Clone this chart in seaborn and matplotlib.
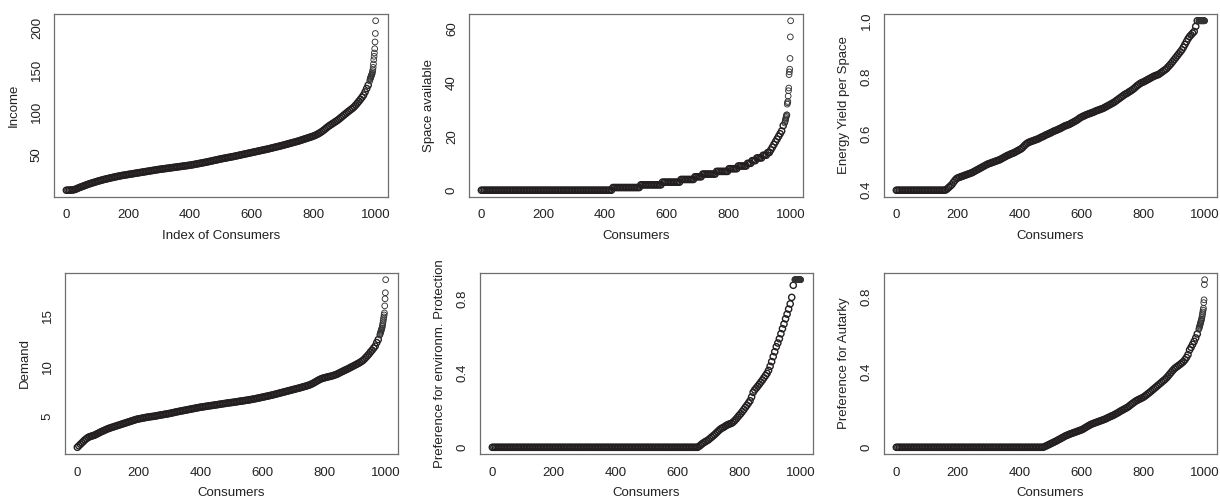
import numpy as np
import matplotlib
matplotlib.use("Agg")
import matplotlib.pyplot as plt
import seaborn as sns

# ---------------- data (sorted consumer attributes) ----------------
bulk_index = np.arange(1, 977, 5)      # consumer ranks 1, 6, 11, ..., 976
tail_index = np.arange(981, 1001)      # consumer ranks 981 ... 1000

income_bulk = [
    8.0, 8.0, 8.1, 8.2, 8.3, 8.6, 9.2, 10.0, 10.8, 11.6,
    12.2, 12.9, 13.6, 14.3, 15.0, 15.6, 16.2, 16.8, 17.3, 17.9,
    18.5, 19.0, 19.5, 20.0, 20.5, 21.0, 21.4, 21.8, 22.3, 22.7,
    23.1, 23.5, 23.9, 24.3, 24.7, 25.0, 25.4, 25.7, 26.0, 26.3,
    26.6, 26.9, 27.2, 27.5, 27.8, 28.1, 28.4, 28.7, 29.0, 29.3,
    29.6, 29.9, 30.2, 30.5, 30.8, 31.1, 31.4, 31.7, 32.0, 32.3,
    32.6, 32.8, 33.1, 33.3, 33.6, 33.8, 34.1, 34.3, 34.6, 34.8,
    35.1, 35.3, 35.6, 35.8, 36.1, 36.3, 36.6, 36.8, 37.1, 37.3,
    37.6, 37.9, 38.2, 38.6, 38.9, 39.3, 39.6, 40.0, 40.3, 40.7,
    41.0, 41.4, 41.8, 42.2, 42.6, 43.0, 43.4, 43.8, 44.2, 44.6,
    45.0, 45.4, 45.7, 46.1, 46.4, 46.8, 47.1, 47.5, 47.8, 48.2,
    48.6, 49.0, 49.4, 49.8, 50.2, 50.6, 51.0, 51.4, 51.8, 52.2,
    52.6, 53.0, 53.4, 53.8, 54.2, 54.6, 55.0, 55.4, 55.8, 56.2,
    56.6, 57.0, 57.5, 57.9, 58.4, 58.8, 59.3, 59.7, 60.2, 60.6,
    61.1, 61.6, 62.1, 62.6, 63.1, 63.6, 64.1, 64.6, 65.1, 65.6,
    66.1, 66.7, 67.3, 67.9, 68.5, 69.1, 69.7, 70.3, 70.9, 71.5,
    72.2, 73.0, 73.9, 74.9, 76.0, 77.2, 78.5, 80.0, 81.5, 83.0,
    84.3, 85.5, 86.7, 87.9, 89.1, 90.3, 91.7, 93.2, 94.7, 96.2,
    97.7, 99.2, 100.7, 102.1, 103.5, 104.9, 106.6, 108.6, 110.8, 113.0,
    115.3, 117.7, 120.3, 124.0, 128.0, 132.0,
]
income_tail = [137, 139, 140, 141, 142, 143, 144, 145, 146, 148,
               150, 153, 157, 162, 166, 170, 175, 183, 193, 208]

space_bulk = [
    0, 0, 0, 0, 0, 0, 0, 0, 0, 0,
    0, 0, 0, 0, 0, 0, 0, 0, 0, 0,
    0, 0, 0, 0, 0, 0, 0, 0, 0, 0,
    0, 0, 0, 0, 0, 0, 0, 0, 0, 0,
    0, 0, 0, 0, 0, 0, 0, 0, 0, 0,
    0, 0, 0, 0, 0, 0, 0, 0, 0, 0,
    0, 0, 0, 0, 0, 0, 0, 0, 0, 0,
    0, 0, 0, 0, 0, 0, 0, 0, 0, 0,
    0, 0, 0, 0, 0, 1, 1, 1, 1, 1,
    1, 1, 1, 1, 1, 1, 1, 1, 1, 1,
    1, 1, 1, 2, 2, 2, 2, 2, 2, 2,
    2, 2, 2, 2, 2, 2, 2, 3, 3, 3,
    3, 3, 3, 3, 3, 3, 3, 3, 3, 4,
    4, 4, 4, 4, 4, 4, 4, 4, 5, 5,
    5, 5, 5, 6, 6, 6, 6, 6, 6, 6,
    6, 6, 7, 7, 7, 7, 7, 7, 7, 7,
    8, 8, 8, 8, 8, 8, 9, 9, 9, 9,
    9, 9, 10, 10, 10, 11, 11, 11, 12, 12,
    12, 12, 13, 13, 13, 14, 14, 15, 16, 17,
    18, 19, 20, 21, 22, 24,
]
space_tail = [25, 25.5, 26, 26.5, 27, 27.5, 28, 28, 32, 32.5,
              33, 35, 37, 38, 43, 44, 45, 49, 57, 63]

energy_bulk = [
    0.40, 0.40, 0.40, 0.40, 0.40, 0.40, 0.40, 0.40, 0.40, 0.40,
    0.40, 0.40, 0.40, 0.40, 0.40, 0.40, 0.40, 0.40, 0.40, 0.40,
    0.40, 0.40, 0.40, 0.40, 0.40, 0.40, 0.40, 0.40, 0.40, 0.40,
    0.40, 0.40, 0.401, 0.405, 0.41, 0.415, 0.42, 0.428, 0.435, 0.441,
    0.444, 0.446, 0.448, 0.450, 0.452, 0.454, 0.456, 0.458, 0.460, 0.462,
    0.465, 0.468, 0.471, 0.474, 0.477, 0.480, 0.483, 0.486, 0.489, 0.492,
    0.494, 0.496, 0.498, 0.500, 0.502, 0.504, 0.506, 0.508, 0.511, 0.514,
    0.517, 0.520, 0.523, 0.525, 0.528, 0.530, 0.532, 0.535, 0.538, 0.541,
    0.544, 0.547, 0.552, 0.558, 0.563, 0.567, 0.570, 0.572, 0.574, 0.576,
    0.578, 0.580, 0.582, 0.585, 0.588, 0.590, 0.593, 0.596, 0.598, 0.601,
    0.603, 0.606, 0.609, 0.611, 0.613, 0.616, 0.618, 0.621, 0.624, 0.627,
    0.629, 0.631, 0.633, 0.636, 0.639, 0.642, 0.645, 0.648, 0.652, 0.656,
    0.659, 0.662, 0.664, 0.667, 0.669, 0.671, 0.673, 0.675, 0.677, 0.680,
    0.682, 0.684, 0.686, 0.688, 0.690, 0.693, 0.696, 0.699, 0.702, 0.705,
    0.708, 0.711, 0.715, 0.719, 0.723, 0.727, 0.731, 0.735, 0.739, 0.742,
    0.745, 0.749, 0.752, 0.756, 0.760, 0.765, 0.770, 0.774, 0.778, 0.781,
    0.783, 0.786, 0.789, 0.792, 0.795, 0.798, 0.801, 0.804, 0.806, 0.808,
    0.810, 0.814, 0.818, 0.822, 0.826, 0.830, 0.836, 0.842, 0.848, 0.855,
    0.862, 0.869, 0.876, 0.883, 0.890, 0.897, 0.906, 0.916, 0.926, 0.936,
    0.944, 0.950, 0.956, 0.962, 0.980, 1.000,
]
energy_tail = [1.0, 1.0, 1.0, 1.0, 1.0, 1.0, 1.0, 1.0, 1.0, 1.0,
               1.0, 1.0, 1.0, 1.0, 1.0, 1.0, 1.0, 1.0, 1.0, 1.0]

demand_bulk = [
    1.95, 2.1, 2.25, 2.4, 2.55, 2.7, 2.82, 2.93, 3.0, 3.05,
    3.1, 3.15, 3.22, 3.3, 3.38, 3.46, 3.53, 3.6, 3.67, 3.74,
    3.8, 3.86, 3.91, 3.96, 4.01, 4.06, 4.11, 4.16, 4.21, 4.26,
    4.31, 4.36, 4.41, 4.46, 4.51, 4.56, 4.61, 4.66, 4.71, 4.75,
    4.78, 4.81, 4.84, 4.87, 4.9, 4.93, 4.96, 4.98, 5.0, 5.02,
    5.04, 5.07, 5.1, 5.13, 5.16, 5.18, 5.21, 5.24, 5.26, 5.29,
    5.32, 5.35, 5.39, 5.42, 5.46, 5.49, 5.52, 5.55, 5.58, 5.61,
    5.64, 5.67, 5.7, 5.73, 5.76, 5.79, 5.82, 5.85, 5.88, 5.91,
    5.94, 5.96, 5.98, 6.01, 6.03, 6.06, 6.08, 6.1, 6.12, 6.15,
    6.17, 6.19, 6.22, 6.24, 6.27, 6.29, 6.31, 6.34, 6.36, 6.38,
    6.4, 6.42, 6.44, 6.47, 6.49, 6.52, 6.54, 6.56, 6.58, 6.61,
    6.63, 6.65, 6.68, 6.71, 6.74, 6.77, 6.8, 6.83, 6.86, 6.9,
    6.93, 6.96, 7.0, 7.03, 7.06, 7.1, 7.13, 7.17, 7.21, 7.25,
    7.29, 7.33, 7.37, 7.41, 7.45, 7.49, 7.53, 7.57, 7.61, 7.65,
    7.69, 7.73, 7.77, 7.81, 7.85, 7.89, 7.94, 7.98, 8.02, 8.07,
    8.12, 8.18, 8.25, 8.33, 8.42, 8.51, 8.6, 8.68, 8.75, 8.81,
    8.85, 8.89, 8.93, 8.97, 9.0, 9.04, 9.09, 9.14, 9.2, 9.27,
    9.35, 9.43, 9.5, 9.58, 9.65, 9.72, 9.8, 9.88, 9.96, 10.04,
    10.12, 10.2, 10.28, 10.37, 10.47, 10.57, 10.72, 10.88, 11.05, 11.22,
    11.42, 11.6, 11.8, 12.0, 12.35, 12.65,
]
demand_tail = [13.1, 13.2, 13.3, 13.4, 13.5, 13.6, 13.7, 13.8, 13.95, 14.1,
               14.3, 14.5, 14.7, 14.9, 15.1, 15.3, 16.0, 16.7, 17.3, 18.6]

environment_bulk = [
    0, 0, 0, 0, 0, 0, 0, 0, 0, 0,
    0, 0, 0, 0, 0, 0, 0, 0, 0, 0,
    0, 0, 0, 0, 0, 0, 0, 0, 0, 0,
    0, 0, 0, 0, 0, 0, 0, 0, 0, 0,
    0, 0, 0, 0, 0, 0, 0, 0, 0, 0,
    0, 0, 0, 0, 0, 0, 0, 0, 0, 0,
    0, 0, 0, 0, 0, 0, 0, 0, 0, 0,
    0, 0, 0, 0, 0, 0, 0, 0, 0, 0,
    0, 0, 0, 0, 0, 0, 0, 0, 0, 0,
    0, 0, 0, 0, 0, 0, 0, 0, 0, 0,
    0, 0, 0, 0, 0, 0, 0, 0, 0, 0,
    0, 0, 0, 0, 0, 0, 0, 0, 0, 0,
    0, 0, 0, 0, 0, 0, 0, 0, 0, 0,
    0, 0, 0, 0, 0.005, 0.012, 0.019, 0.025, 0.030, 0.035,
    0.040, 0.047, 0.054, 0.061, 0.068, 0.076, 0.084, 0.092, 0.099, 0.104,
    0.108, 0.114, 0.119, 0.123, 0.126, 0.129, 0.135, 0.143, 0.152, 0.162,
    0.172, 0.181, 0.192, 0.203, 0.215, 0.226, 0.238, 0.250, 0.270, 0.295,
    0.308, 0.318, 0.328, 0.339, 0.350, 0.361, 0.373, 0.385, 0.397, 0.413,
    0.435, 0.460, 0.487, 0.513, 0.540, 0.560, 0.583, 0.610, 0.637, 0.662,
    0.690, 0.715, 0.742, 0.770, 0.805, 0.870,
]
environment_tail = [0.9, 0.9, 0.9, 0.9, 0.9, 0.9, 0.9, 0.9, 0.9, 0.9,
                    0.9, 0.9, 0.9, 0.9, 0.9, 0.9, 0.9, 0.9, 0.9, 0.9]

autarky_bulk = [
    0, 0, 0, 0, 0, 0, 0, 0, 0, 0,
    0, 0, 0, 0, 0, 0, 0, 0, 0, 0,
    0, 0, 0, 0, 0, 0, 0, 0, 0, 0,
    0, 0, 0, 0, 0, 0, 0, 0, 0, 0,
    0, 0, 0, 0, 0, 0, 0, 0, 0, 0,
    0, 0, 0, 0, 0, 0, 0, 0, 0, 0,
    0, 0, 0, 0, 0, 0, 0, 0, 0, 0,
    0, 0, 0, 0, 0, 0, 0, 0, 0, 0,
    0, 0, 0, 0, 0, 0, 0, 0, 0, 0,
    0, 0, 0, 0, 0, 0, 0.003, 0.007, 0.011, 0.015,
    0.019, 0.023, 0.027, 0.031, 0.035, 0.040, 0.044, 0.049, 0.053, 0.058,
    0.062, 0.065, 0.069, 0.072, 0.075, 0.078, 0.081, 0.084, 0.087, 0.090,
    0.093, 0.097, 0.102, 0.107, 0.112, 0.117, 0.121, 0.125, 0.128, 0.131,
    0.134, 0.137, 0.140, 0.143, 0.146, 0.149, 0.153, 0.157, 0.161, 0.165,
    0.168, 0.172, 0.177, 0.181, 0.186, 0.191, 0.196, 0.200, 0.205, 0.209,
    0.214, 0.220, 0.227, 0.233, 0.239, 0.245, 0.250, 0.254, 0.258, 0.262,
    0.266, 0.272, 0.278, 0.285, 0.291, 0.298, 0.305, 0.312, 0.319, 0.326,
    0.333, 0.340, 0.347, 0.354, 0.361, 0.369, 0.378, 0.388, 0.398, 0.408,
    0.417, 0.424, 0.430, 0.436, 0.442, 0.449, 0.456, 0.466, 0.478, 0.493,
    0.518, 0.532, 0.548, 0.564, 0.582, 0.603,
]
autarky_tail = [0.628, 0.634, 0.640, 0.646, 0.652, 0.658, 0.664, 0.670, 0.676, 0.682,
                0.690, 0.700, 0.710, 0.720, 0.730, 0.740, 0.770, 0.785, 0.866, 0.892]

x_ticks = [0, 200, 400, 600, 800, 1000]
x_tick_labels = ["0", "200", "400", "600", "800", "1000"]

panels = [
    dict(bulk=income_bulk, tail=income_tail, ylabel="Income", xlabel="Index of Consumers",
         yticks=[50, 100, 150, 200], ylabels=["50", "100", "150", "200"],
         box=(54, 14, 388, 197)),
    dict(bulk=space_bulk, tail=space_tail, ylabel="Space available", xlabel="Consumers",
         yticks=[0, 20, 40, 60], ylabels=["0", "20", "40", "60"],
         box=(469, 14, 803, 197)),
    dict(bulk=energy_bulk, tail=energy_tail, ylabel="Energy Yield per Space", xlabel="Consumers",
         yticks=[0.4, 0.6, 0.8, 1.0], ylabels=["0.4", "0.6", "0.8", "1.0"],
         box=(884, 14, 1217, 197)),
    dict(bulk=demand_bulk, tail=demand_tail, ylabel="Demand", xlabel="Consumers",
         yticks=[5, 10, 15], ylabels=["5", "10", "15"],
         box=(65, 273, 398, 454)),
    dict(bulk=environment_bulk, tail=environment_tail,
         ylabel="Preference for environm. Protection", xlabel="Consumers",
         yticks=[0, 0.4, 0.8], ylabels=["0", "0.4", "0.8"],
         box=(480, 273, 813, 454)),
    dict(bulk=autarky_bulk, tail=autarky_tail, ylabel="Preference for Autarky", xlabel="Consumers",
         yticks=[0, 0.4, 0.8], ylabels=["0", "0.4", "0.8"],
         box=(884, 273, 1217, 454)),
]

# ---------------- styling ----------------
sns.set_style("white")
plt.rcParams["font.family"] = ["Liberation Sans", "DejaVu Sans"]
plt.rcParams["font.size"] = 9.5

W, H = 1220, 501
fig = plt.figure(figsize=(W / 100, H / 100), dpi=100)
fig.patch.set_facecolor("white")

frame_col = "#6e6e6e"
text_col = "#222222"
point_col = "#231f20"

for p in panels:
    x0, y0, x1, y1 = p["box"]
    ax = fig.add_axes([x0 / W, 1 - y1 / H, (x1 - x0) / W, (y1 - y0) / H])
    sns.scatterplot(x=bulk_index, y=np.array(p["bulk"], dtype=float), ax=ax,
                    marker="o", s=20, facecolors="none", edgecolors=point_col,
                    linewidths=1.0, legend=False)
    sns.scatterplot(x=tail_index, y=np.array(p["tail"], dtype=float), ax=ax,
                    marker="o", s=17, facecolors="none", edgecolors="#333333",
                    linewidths=0.65, legend=False)
    ax.margins(x=0.04, y=0.04)
    ax.set_xticks(x_ticks)
    ax.set_xticklabels(x_tick_labels)
    ax.set_yticks(p["yticks"])
    ax.set_yticklabels(p["ylabels"], rotation=90, va="center")
    for s in ax.spines.values():
        s.set_visible(True)
        s.set_color(frame_col)
        s.set_linewidth(0.9)
    ax.tick_params(axis="both", direction="out", length=5, width=0.8,
                   color=frame_col, labelcolor=text_col, labelsize=9.5, pad=3)
    ax.tick_params(axis="x", pad=4)
    ax.set_xlabel(p["xlabel"], color=text_col, fontsize=9.5, labelpad=6)
    ax.set_ylabel(p["ylabel"], color=text_col, fontsize=9.5, labelpad=8)
    ax.set_facecolor("white")

fig.savefig("out.png", dpi=100, facecolor="white")
